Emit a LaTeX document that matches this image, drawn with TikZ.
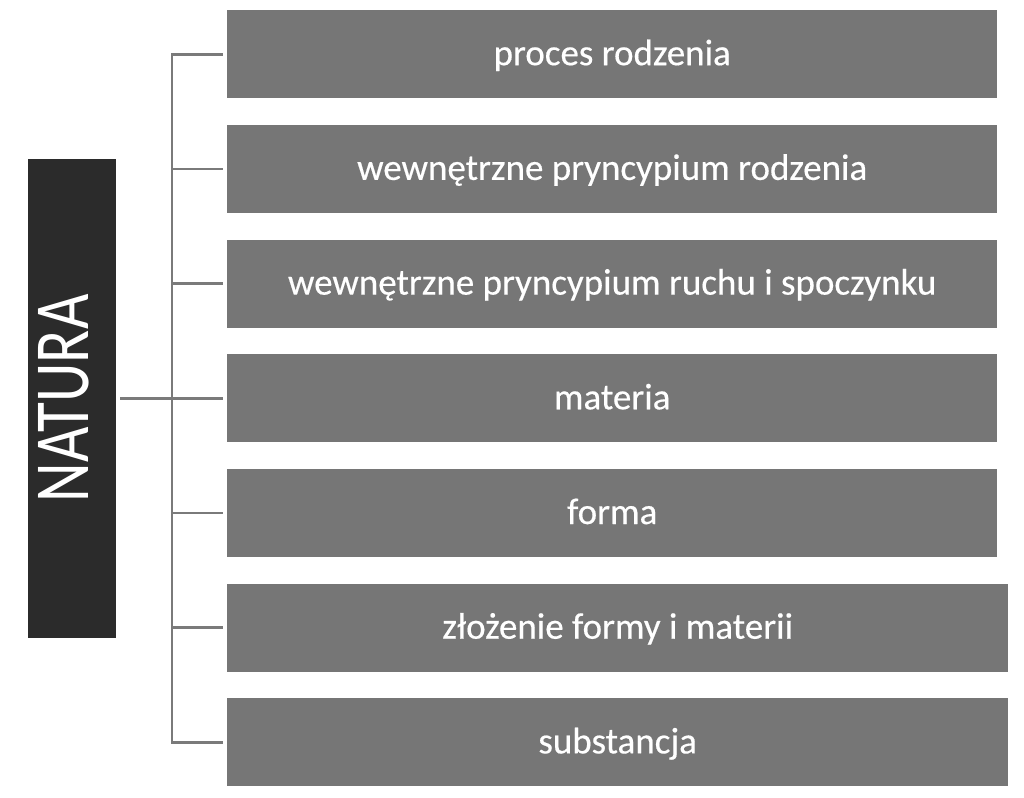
\documentclass[tikz,border=0pt]{standalone}
\usepackage{fontspec}
\setmainfont{Carlito}
\definecolor{boxgrey}{HTML}{767676}
\definecolor{boxdark}{HTML}{2B2B2B}
\definecolor{linegrey}{HTML}{7A7A7A}
\begin{document}
\begin{tikzpicture}[x=1pt,y=-1pt,
  gbox/.style={fill=boxgrey, draw=none, inner sep=0pt, anchor=north west,
    minimum height=88pt, text=white,
    font=\fontsize{37}{44}\selectfont\addfontfeatures{FakeBold=0.4},
    text height=28pt, text depth=6pt},
  dbox/.style={fill=boxdark, draw=none, inner sep=0pt, anchor=north west,
    minimum width=88pt, minimum height=479pt},
  conn/.style={draw=linegrey, line width=2.8pt, line cap=rect}]
\useasboundingbox (0,0) rectangle (1024,797);
\node[dbox] (natura) at (28,159) {};
\node[rotate=90, anchor=base, text=white, inner sep=0pt] (naturatext) at (88,398.5)
  {\scalebox{1.02}[1.3]{\fontsize{60}{72}\selectfont NATURA}};
\node[gbox, minimum width=770pt] (b1) at (227,10) {proces rodzenia};
\node[gbox, minimum width=770pt] (b2) at (227,124.7) {wewnętrzne pryncypium rodzenia};
\node[gbox, minimum width=770pt] (b3) at (227,239.4) {wewnętrzne pryncypium ruchu i spoczynku};
\node[gbox, minimum width=770pt] (b4) at (227,354.1) {materia};
\node[gbox, minimum width=770pt] (b5) at (227,468.8) {forma};
\node[gbox, minimum width=781pt] (b6) at (227,583.5) {złożenie formy i materii};
\node[gbox, minimum width=781pt] (b7) at (227,698.2) {substancja};
\coordinate (top) at (172,54);
\coordinate (bot) at (172,742.2);
\draw[conn] (top) -- (bot);
\foreach \i in {1,...,7}{
  \draw[conn, line cap=butt] (b\i.west -| top) -- ([xshift=-4pt]b\i.west);
}
\draw[conn, line cap=butt] ([xshift=4pt]natura.east) -- (natura.east -| top);
\end{tikzpicture}
\end{document}
